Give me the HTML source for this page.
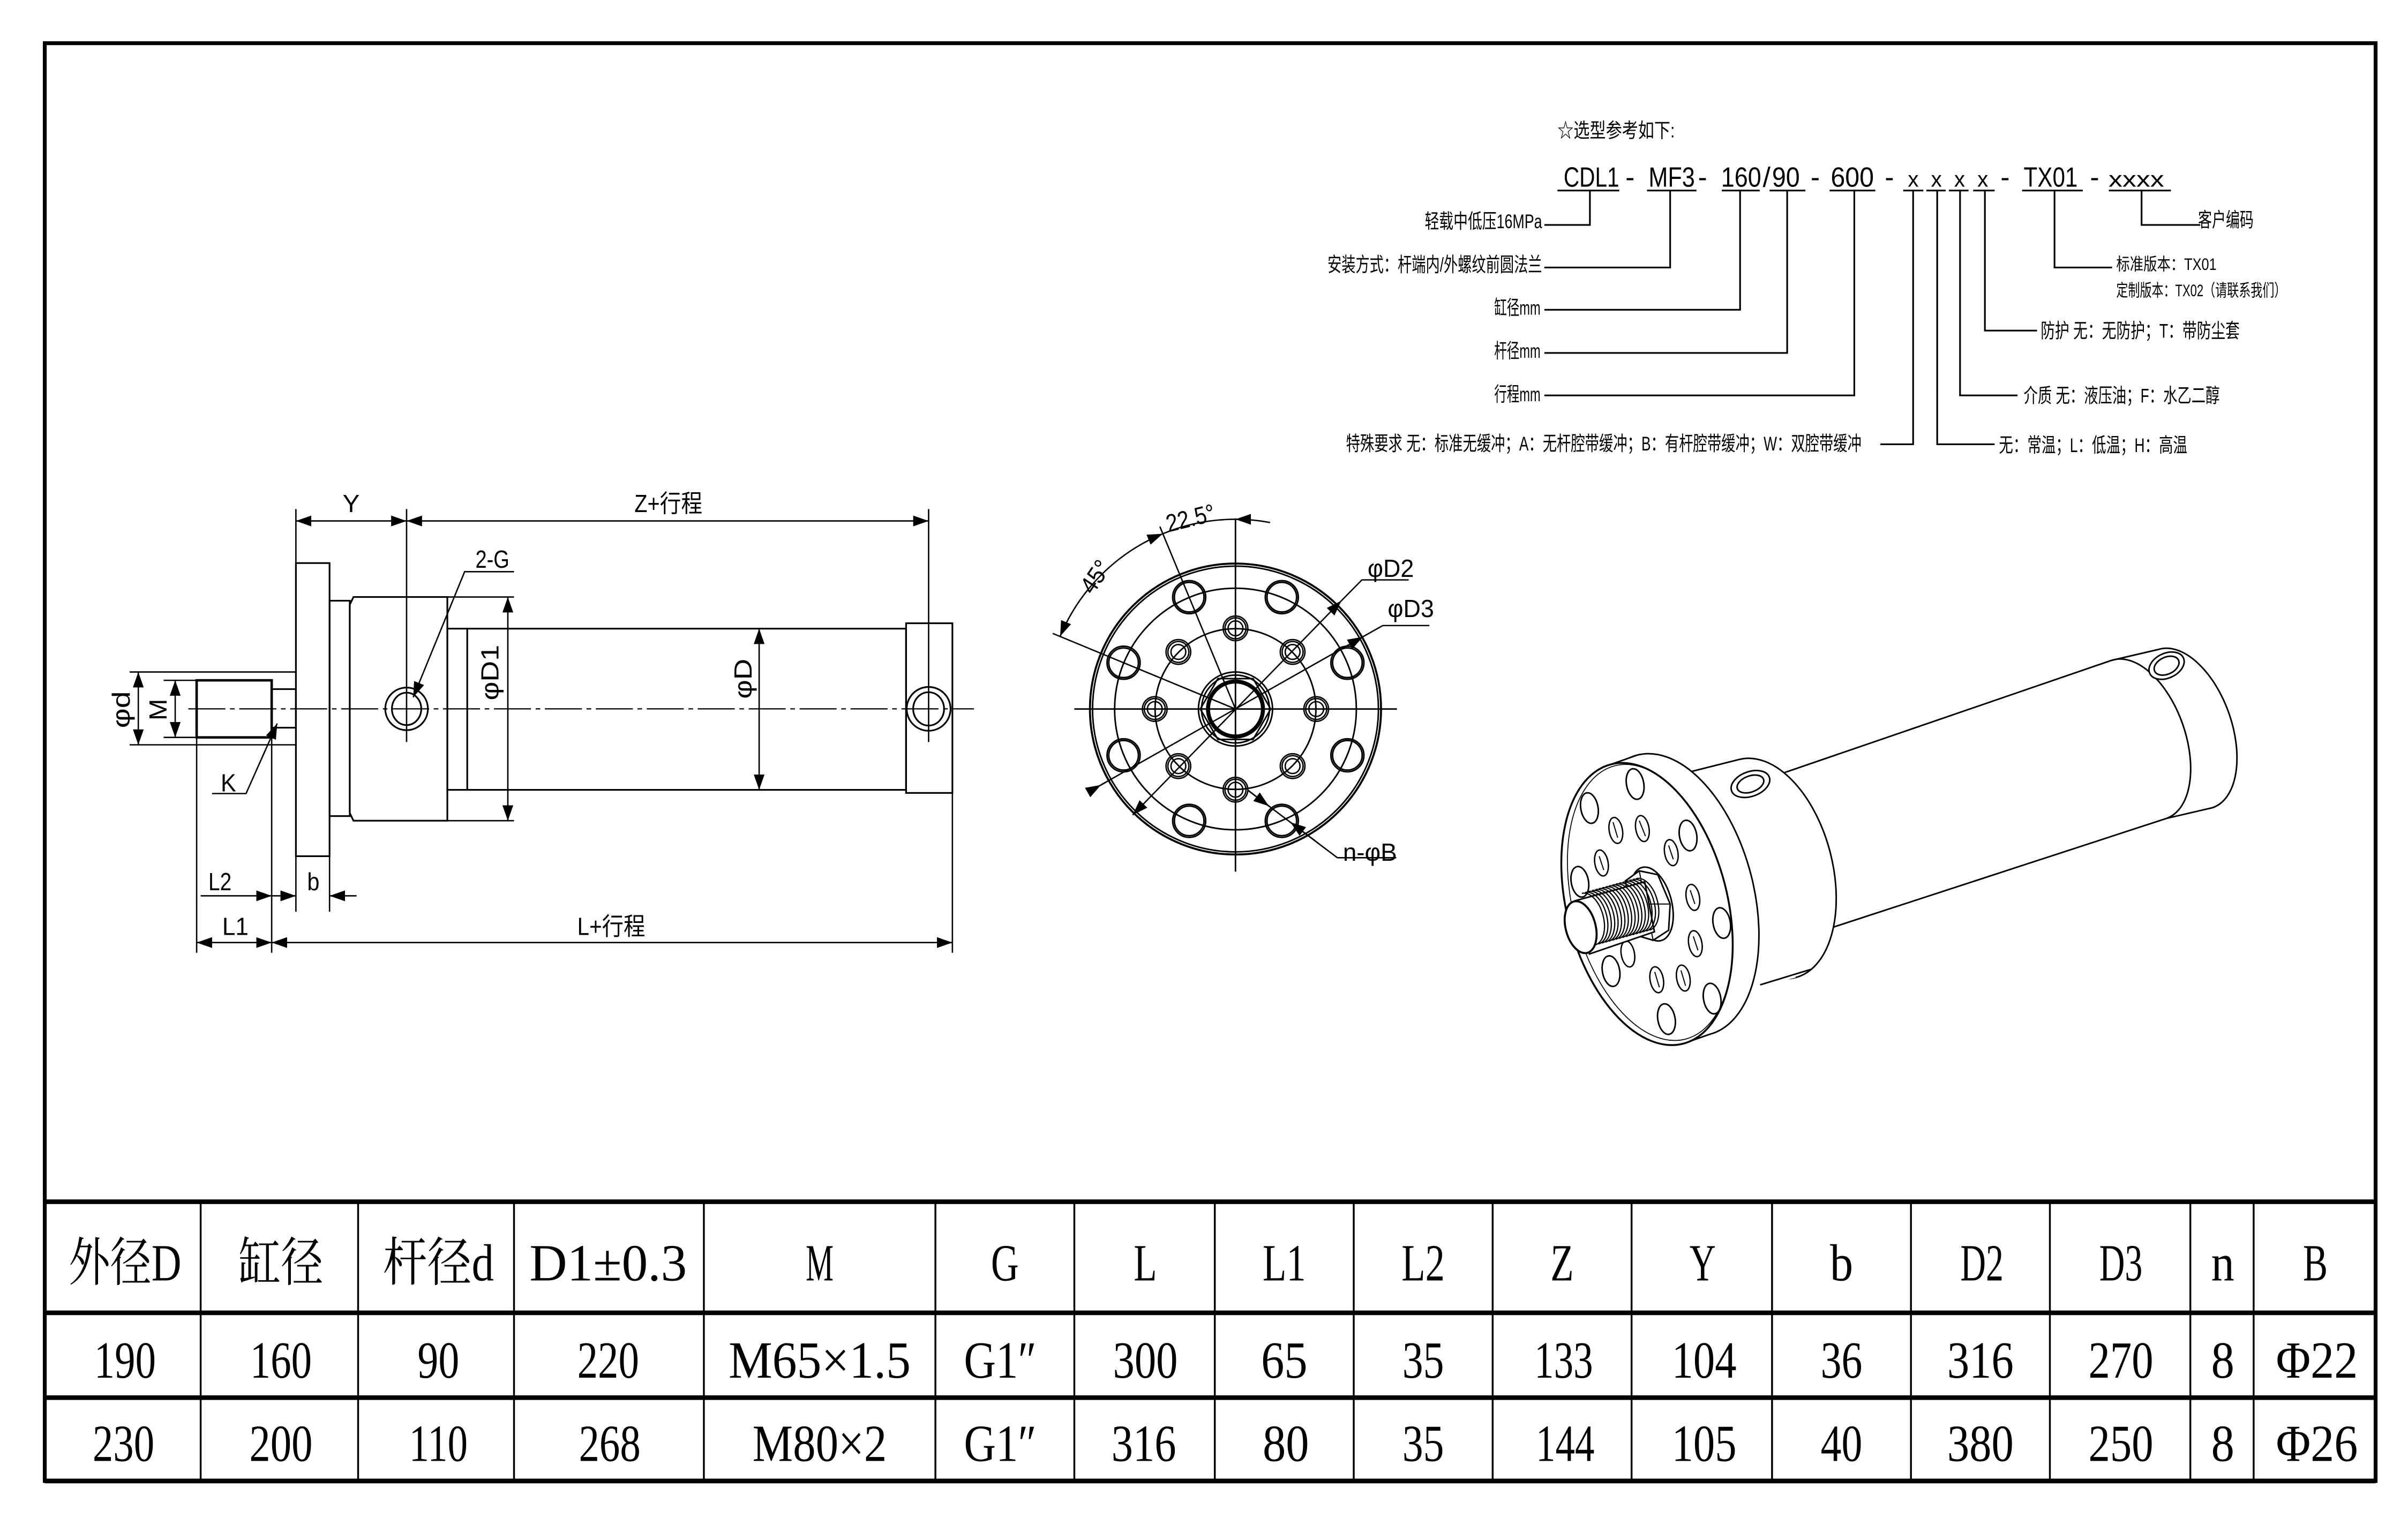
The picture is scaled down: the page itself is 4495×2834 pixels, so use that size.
<!DOCTYPE html>
<html><head><meta charset="utf-8">
<style>
html,body{margin:0;padding:0;background:#fff;}
svg{display:block;}
.s{font-family:"Liberation Sans","Noto Sans CJK SC",sans-serif;}
.t{font-family:"Liberation Serif","Noto Serif CJK SC",serif;font-size:34px;}
</style></head>
<body>
<svg xmlns="http://www.w3.org/2000/svg" width="4495" height="2834" viewBox="0 0 1560 984" preserveAspectRatio="none">
<defs>
<marker id="a" markerUnits="userSpaceOnUse" markerWidth="10" markerHeight="7" refX="10" refY="3.5" orient="auto-start-reverse"><path d="M0,0 L10,3.5 L0,7 z" fill="#000"/></marker>
</defs>
<rect width="1560" height="984" fill="#fff"/>
<!-- frame -->
<rect x="29" y="28" width="1510" height="932" fill="none" stroke="#000" stroke-width="2.5"/>
<!-- table -->
<g stroke="#000">
<line x1="29" y1="779" x2="1539" y2="779" stroke-width="3"/>
<line x1="29" y1="851" x2="1539" y2="851" stroke-width="3"/>
<line x1="29" y1="906" x2="1539" y2="906" stroke-width="3"/>
<line x1="29" y1="960" x2="1539" y2="960" stroke-width="3"/>
<g stroke-width="1.2">
<line x1="130" y1="779" x2="130" y2="960"/><line x1="232" y1="779" x2="232" y2="960"/>
<line x1="333" y1="779" x2="333" y2="960"/><line x1="456" y1="779" x2="456" y2="960"/>
<line x1="606" y1="779" x2="606" y2="960"/><line x1="696" y1="779" x2="696" y2="960"/>
<line x1="787" y1="779" x2="787" y2="960"/><line x1="877" y1="779" x2="877" y2="960"/>
<line x1="967" y1="779" x2="967" y2="960"/><line x1="1057" y1="779" x2="1057" y2="960"/>
<line x1="1148" y1="779" x2="1148" y2="960"/><line x1="1238" y1="779" x2="1238" y2="960"/>
<line x1="1328" y1="779" x2="1328" y2="960"/><line x1="1419" y1="779" x2="1419" y2="960"/>
<line x1="1460" y1="779" x2="1460" y2="960"/>
</g></g>
<g class="t" text-anchor="middle" fill="#000">
<text x="81" y="830" textLength="73" lengthAdjust="spacingAndGlyphs">外径D</text>
<text x="182" y="830" textLength="55" lengthAdjust="spacingAndGlyphs">缸径</text>
<text x="284" y="830" textLength="72" lengthAdjust="spacingAndGlyphs">杆径d</text>
<text x="394" y="830" textLength="102" lengthAdjust="spacingAndGlyphs">D1±0.3</text>
<text x="531" y="830" textLength="18" lengthAdjust="spacingAndGlyphs">M</text>
<text x="651" y="830" textLength="18" lengthAdjust="spacingAndGlyphs">G</text>
<text x="742" y="830" textLength="15" lengthAdjust="spacingAndGlyphs">L</text>
<text x="832" y="830" textLength="28" lengthAdjust="spacingAndGlyphs">L1</text>
<text x="922" y="830" textLength="28" lengthAdjust="spacingAndGlyphs">L2</text>
<text x="1012" y="830" textLength="15" lengthAdjust="spacingAndGlyphs">Z</text>
<text x="1103" y="830" textLength="17" lengthAdjust="spacingAndGlyphs">Y</text>
<text x="1193" y="830" textLength="15" lengthAdjust="spacingAndGlyphs">b</text>
<text x="1284" y="830" textLength="28" lengthAdjust="spacingAndGlyphs">D2</text>
<text x="1374" y="830" textLength="28" lengthAdjust="spacingAndGlyphs">D3</text>
<text x="1440" y="830" textLength="15" lengthAdjust="spacingAndGlyphs">n</text>
<text x="1500" y="830" textLength="16" lengthAdjust="spacingAndGlyphs">B</text>

<text x="81" y="893" textLength="40" lengthAdjust="spacingAndGlyphs">190</text>
<text x="182" y="893" textLength="40" lengthAdjust="spacingAndGlyphs">160</text>
<text x="284" y="893" textLength="27" lengthAdjust="spacingAndGlyphs">90</text>
<text x="394" y="893" textLength="40" lengthAdjust="spacingAndGlyphs">220</text>
<text x="531" y="893" textLength="118" lengthAdjust="spacingAndGlyphs">M65×1.5</text>
<text x="648" y="893" textLength="47" lengthAdjust="spacingAndGlyphs">G1″</text>
<text x="742" y="893" textLength="42" lengthAdjust="spacingAndGlyphs">300</text>
<text x="832" y="893" textLength="30" lengthAdjust="spacingAndGlyphs">65</text>
<text x="922" y="893" textLength="27" lengthAdjust="spacingAndGlyphs">35</text>
<text x="1013" y="893" textLength="38" lengthAdjust="spacingAndGlyphs">133</text>
<text x="1104" y="893" textLength="42" lengthAdjust="spacingAndGlyphs">104</text>
<text x="1193" y="893" textLength="27" lengthAdjust="spacingAndGlyphs">36</text>
<text x="1283" y="893" textLength="43" lengthAdjust="spacingAndGlyphs">316</text>
<text x="1374" y="893" textLength="42" lengthAdjust="spacingAndGlyphs">270</text>
<text x="1440" y="893" textLength="15" lengthAdjust="spacingAndGlyphs">8</text>
<text x="1501" y="893" textLength="53" lengthAdjust="spacingAndGlyphs">Φ22</text>

<text x="80" y="947" textLength="40" lengthAdjust="spacingAndGlyphs">230</text>
<text x="182" y="947" textLength="41" lengthAdjust="spacingAndGlyphs">200</text>
<text x="284" y="947" textLength="38" lengthAdjust="spacingAndGlyphs">110</text>
<text x="395" y="947" textLength="40" lengthAdjust="spacingAndGlyphs">268</text>
<text x="531" y="947" textLength="87" lengthAdjust="spacingAndGlyphs">M80×2</text>
<text x="648" y="947" textLength="47" lengthAdjust="spacingAndGlyphs">G1″</text>
<text x="741" y="947" textLength="42" lengthAdjust="spacingAndGlyphs">316</text>
<text x="833" y="947" textLength="30" lengthAdjust="spacingAndGlyphs">80</text>
<text x="922" y="947" textLength="27" lengthAdjust="spacingAndGlyphs">35</text>
<text x="1014" y="947" textLength="38" lengthAdjust="spacingAndGlyphs">144</text>
<text x="1104" y="947" textLength="42" lengthAdjust="spacingAndGlyphs">105</text>
<text x="1193" y="947" textLength="27" lengthAdjust="spacingAndGlyphs">40</text>
<text x="1283" y="947" textLength="43" lengthAdjust="spacingAndGlyphs">380</text>
<text x="1374" y="947" textLength="42" lengthAdjust="spacingAndGlyphs">250</text>
<text x="1440" y="947" textLength="15" lengthAdjust="spacingAndGlyphs">8</text>
<text x="1501" y="947" textLength="53" lengthAdjust="spacingAndGlyphs">Φ26</text>
</g>

<!-- selection code -->
<g class="s" fill="#000">
<text x="1009" y="89" font-size="13" textLength="76" lengthAdjust="spacingAndGlyphs">☆选型参考如下:</text>
<g font-size="18">
<text x="1013" y="121" textLength="36" lengthAdjust="spacingAndGlyphs">CDL1</text>
<text x="1053" y="121">-</text>
<text x="1068" y="121" textLength="30" lengthAdjust="spacingAndGlyphs">MF3</text>
<text x="1100" y="121">-</text>
<text x="1115" y="121" textLength="26" lengthAdjust="spacingAndGlyphs">160</text>
<text x="1142" y="121">/</text>
<text x="1148" y="121" textLength="18" lengthAdjust="spacingAndGlyphs">90</text>
<text x="1173" y="121">-</text>
<text x="1186" y="121" textLength="28" lengthAdjust="spacingAndGlyphs">600</text>
<text x="1221" y="121">-</text>
<text x="1236" y="121" font-size="14">x</text>
<text x="1251" y="121" font-size="14">x</text>
<text x="1266" y="121" font-size="14">x</text>
<text x="1281" y="121" font-size="14">x</text>
<text x="1296" y="121">-</text>
<text x="1311" y="121" textLength="35" lengthAdjust="spacingAndGlyphs">TX01</text>
<text x="1354" y="121">-</text>
<text x="1366" y="121" font-size="14" textLength="36" lengthAdjust="spacingAndGlyphs">xxxx</text>
</g>
<g font-size="13">
<text x="923" y="148" textLength="76" lengthAdjust="spacingAndGlyphs">轻载中低压16MPa</text>
<text x="860" y="176" textLength="139" lengthAdjust="spacingAndGlyphs">安装方式：杆端内/外螺纹前圆法兰</text>
<text x="968" y="204" textLength="30" lengthAdjust="spacingAndGlyphs">缸径mm</text>
<text x="968" y="232" textLength="30" lengthAdjust="spacingAndGlyphs">杆径mm</text>
<text x="968" y="260" textLength="30" lengthAdjust="spacingAndGlyphs">行程mm</text>
<text x="872" y="292" textLength="334" lengthAdjust="spacingAndGlyphs">特殊要求 无：标准无缓冲；A：无杆腔带缓冲；B：有杆腔带缓冲；W：双腔带缓冲</text>
<text x="1295" y="293" textLength="122" lengthAdjust="spacingAndGlyphs">无：常温；L：低温；H：高温</text>
<text x="1311" y="261" textLength="127" lengthAdjust="spacingAndGlyphs">介质 无：液压油；F：水乙二醇</text>
<text x="1322" y="219" textLength="129" lengthAdjust="spacingAndGlyphs">防护 无：无防护；T：带防尘套</text>
<text x="1371" y="175" font-size="11" textLength="65" lengthAdjust="spacingAndGlyphs">标准版本：TX01</text>
<text x="1371" y="192" font-size="11" textLength="110" lengthAdjust="spacingAndGlyphs">定制版本：TX02（请联系我们）</text>
<text x="1424" y="147" textLength="36" lengthAdjust="spacingAndGlyphs">客户编码</text>
</g>
</g>
<g stroke="#000" stroke-width="1.1" fill="none">
<path d="M1009,123.5H1049 M1067,123.5H1099 M1115.5,123.5H1140 M1146.4,123.5H1169.6 M1185.3,123.5H1214.9 M1233,123.5H1246 M1248,123.5H1260.5 M1262.6,123.5H1275.3 M1278.3,123.5H1292.2 M1310,123.5H1349.3 M1366.2,123.5H1406.4"/>
<path d="M1030,123.5V145.8H1000.5 M1082,123.5V173.4H1000.5 M1127.3,123.5V200.8H1000.5 M1157.8,123.5V228.8H1000.5 M1201.3,123.5V256.3H1000.5 M1239.4,123.5V288H1218.2 M1255,123.5V288H1292.2 M1269.8,123.5V256.3H1307 M1285.9,123.5V214.3H1319.7 M1331,123.5V173.4H1368.3 M1387.4,123.5V145.8H1425.4"/>
</g>

<!-- ===== Left side view ===== -->
<g stroke="#000" stroke-width="1.1" fill="none">
<rect x="191.7" y="365" width="21.8" height="190"/>
<rect x="213.5" y="389.4" width="13.1" height="139.6"/>
<path d="M226.6,392 L229,387 H289.8 V532 H229 L226.6,527 Z"/>
<rect x="289.8" y="407.5" width="297.2" height="104.5"/>
<line x1="302.7" y1="407.5" x2="302.7" y2="512"/>
<rect x="587" y="404" width="30" height="110"/>
<rect x="127.4" y="441" width="48.6" height="37" stroke-width="1.6"/>
<rect x="176" y="446.7" width="15.7" height="25"/>
<circle cx="263.4" cy="459.5" r="13.8"/><ellipse cx="263.4" cy="459.5" rx="9.5" ry="10.5"/>
<circle cx="601.6" cy="459.5" r="14.2"/><ellipse cx="601.6" cy="459.5" rx="10" ry="10.8"/>
<!-- centerline -->
<line x1="122" y1="459.5" x2="631" y2="459.5" stroke-width="0.8" stroke-dasharray="24,3,3,3"/>
<!-- ext lines -->
<path d="M191.7,330V365 M263.4,330V481 M601.6,330V481" stroke-width="0.9"/>
<path d="M84,435.6H191.7 M84,482.8H191.7 M106,441H127.4 M106,478H127.4" stroke-width="0.9"/>
<path d="M290,387H333 M290,532H333" stroke-width="0.9"/>
<path d="M127.4,478V617.6 M176,478V617.6 M191.7,555V591 M213.5,555V591 M617,514V617.6" stroke-width="0.9"/>
<!-- dims -->
<g stroke-width="0.9">
<line x1="191.7" y1="337.7" x2="263.4" y2="337.7" marker-start="url(#a)" marker-end="url(#a)"/>
<line x1="263.4" y1="337.7" x2="601.6" y2="337.7" marker-start="url(#a)" marker-end="url(#a)"/>
<line x1="329" y1="387" x2="329" y2="532" marker-start="url(#a)" marker-end="url(#a)"/>
<line x1="491.8" y1="407.5" x2="491.8" y2="512" marker-start="url(#a)" marker-end="url(#a)"/>
<line x1="89.6" y1="435.6" x2="89.6" y2="482.8" marker-start="url(#a)" marker-end="url(#a)"/>
<line x1="113.5" y1="441" x2="113.5" y2="478" marker-start="url(#a)" marker-end="url(#a)"/>
<line x1="130" y1="580.7" x2="176" y2="580.7" marker-end="url(#a)"/>
<line x1="176" y1="580.7" x2="191.7" y2="580.7" marker-end="url(#a)"/>
<line x1="231" y1="580.7" x2="213.5" y2="580.7" marker-end="url(#a)"/>
<line x1="127.4" y1="611" x2="176" y2="611" marker-start="url(#a)" marker-end="url(#a)"/>
<line x1="176" y1="611" x2="617" y2="611" marker-start="url(#a)" marker-end="url(#a)"/>
<polyline points="267.7,452 301,370.6 333,370.6" marker-start="url(#a)"/>
<polyline points="179.6,469 159.4,514.4 137.4,514.4" marker-start="url(#a)"/>
</g>
</g>
<g class="s" fill="#000" font-size="16">
<text x="222" y="332" textLength="11" lengthAdjust="spacingAndGlyphs">Y</text>
<text x="411" y="332" textLength="44" lengthAdjust="spacingAndGlyphs">Z+行程</text>
<text x="308" y="368" textLength="22" lengthAdjust="spacingAndGlyphs">2-G</text>
<text x="143" y="513" textLength="10" lengthAdjust="spacingAndGlyphs">K</text>
<text x="135" y="577" textLength="15" lengthAdjust="spacingAndGlyphs">L2</text>
<text x="199" y="577" textLength="8" lengthAdjust="spacingAndGlyphs">b</text>
<text x="144" y="606" textLength="17" lengthAdjust="spacingAndGlyphs">L1</text>
<text x="374" y="606" textLength="44" lengthAdjust="spacingAndGlyphs">L+行程</text>
<text transform="translate(323,436) rotate(-90)" text-anchor="middle" textLength="36" lengthAdjust="spacingAndGlyphs">φD1</text>
<text transform="translate(487,440) rotate(-90)" text-anchor="middle" textLength="26" lengthAdjust="spacingAndGlyphs">φD</text>
<text transform="translate(84,460) rotate(-90)" text-anchor="middle" textLength="24" lengthAdjust="spacingAndGlyphs">φd</text>
<text transform="translate(108,460) rotate(-90)" text-anchor="middle" textLength="14" lengthAdjust="spacingAndGlyphs">M</text>
</g>

<!-- ===== Front view ===== -->
<g stroke="#000" stroke-width="1" fill="none">
<circle cx="800.4" cy="459.6" r="94.3" stroke-width="1.3"/>
<circle cx="800.4" cy="459.6" r="92.6"/>
<circle cx="800.4" cy="459.6" r="78.3"/>
<circle cx="800.4" cy="459.6" r="52.1"/>
<line x1="696" y1="459.6" x2="905" y2="459.6"/>
<line x1="800.4" y1="336" x2="800.4" y2="565"/>
<g id="bh">
</g>
<circle cx="830.4" cy="387.1" r="10.7"/><circle cx="830.4" cy="387.1" r="9.6"/>
<circle cx="872.9" cy="429.6" r="10.7"/><circle cx="872.9" cy="429.6" r="9.6"/>
<circle cx="872.9" cy="489.6" r="10.7"/><circle cx="872.9" cy="489.6" r="9.6"/>
<circle cx="830.4" cy="532.1" r="10.7"/><circle cx="830.4" cy="532.1" r="9.6"/>
<circle cx="770.4" cy="532.1" r="10.7"/><circle cx="770.4" cy="532.1" r="9.6"/>
<circle cx="727.9" cy="489.6" r="10.7"/><circle cx="727.9" cy="489.6" r="9.6"/>
<circle cx="727.9" cy="429.6" r="10.7"/><circle cx="727.9" cy="429.6" r="9.6"/>
<circle cx="770.4" cy="387.1" r="10.7"/><circle cx="770.4" cy="387.1" r="9.6"/>
<g stroke-width="0.9">
<circle cx="800.4" cy="407.3" r="8"/><circle cx="800.4" cy="407.3" r="6.8"/><circle cx="800.4" cy="407.3" r="4.8"/>
<circle cx="837.4" cy="422.6" r="8"/><circle cx="837.4" cy="422.6" r="6.8"/><circle cx="837.4" cy="422.6" r="4.8"/>
<circle cx="852.7" cy="459.6" r="8"/><circle cx="852.7" cy="459.6" r="6.8"/><circle cx="852.7" cy="459.6" r="4.8"/>
<circle cx="837.4" cy="496.6" r="8"/><circle cx="837.4" cy="496.6" r="6.8"/><circle cx="837.4" cy="496.6" r="4.8"/>
<circle cx="800.4" cy="511.9" r="8"/><circle cx="800.4" cy="511.9" r="6.8"/><circle cx="800.4" cy="511.9" r="4.8"/>
<circle cx="763.4" cy="496.6" r="8"/><circle cx="763.4" cy="496.6" r="6.8"/><circle cx="763.4" cy="496.6" r="4.8"/>
<circle cx="748.1" cy="459.6" r="8"/><circle cx="748.1" cy="459.6" r="6.8"/><circle cx="748.1" cy="459.6" r="4.8"/>
<circle cx="763.4" cy="422.6" r="8"/><circle cx="763.4" cy="422.6" r="6.8"/><circle cx="763.4" cy="422.6" r="4.8"/>
</g>
<circle cx="800.4" cy="459.6" r="24"/>
<circle cx="800.4" cy="459.6" r="22"/>
<polygon points="777.6,459.6 789,439.9 811.8,439.9 823.2,459.6 811.8,479.3 789,479.3"/>
<circle cx="800.4" cy="459.6" r="17.8" stroke-width="2.6"/>
<!-- angle lines -->
<line x1="800.4" y1="459.6" x2="751.4" y2="341.3" stroke-width="0.9"/>
<line x1="800.4" y1="459.6" x2="682" y2="410.6" stroke-width="0.9"/>
<path d="M686.8,412.5 A123,123 0 0 1 753.3,346" stroke-width="0.9" marker-start="url(#a)" marker-end="url(#a)"/>
<path d="M753.3,346 A123,123 0 0 1 800.4,336.6" stroke-width="0.9"/>
<path d="M822.8,338.7 A123,123 0 0 0 800.4,336.6" stroke-width="0.9" marker-end="url(#a)"/>
<!-- leaders -->
<line x1="733.8" y1="528.3" x2="869" y2="389.4" stroke-width="0.9" marker-start="url(#a)" marker-end="url(#a)"/>
<polyline points="869,389.4 882.3,375.9 912.6,375.9" stroke-width="0.9"/>
<line x1="713.3" y1="508.8" x2="895.8" y2="405.5" stroke-width="0.9"/>
<line x1="713.3" y1="508.8" x2="719" y2="505.6" stroke-width="0.9"/>
<line x1="880" y1="414.5" x2="883" y2="412.8" stroke-width="0.9"/>
<line x1="705" y1="513.5" x2="713.3" y2="508.8" stroke-width="0.9" marker-end="url(#a)"/>
<line x1="872" y1="419" x2="883" y2="412.8" stroke-width="0.9" marker-end="url(#a)"/>
<polyline points="895.8,405.5 926,405.5" stroke-width="0.9"/>
<line x1="808.5" y1="512.3" x2="866.4" y2="556" stroke-width="0.9"/>
<line x1="808.5" y1="512.3" x2="822" y2="522.5" stroke-width="0.9" marker-end="url(#a)"/>
<line x1="836" y1="533" x2="852" y2="545" stroke-width="0.9" marker-start="url(#a)"/>
<polyline points="866.4,556 904.6,556" stroke-width="0.9"/>
</g>
<g class="s" fill="#000" font-size="16">
<text x="886" y="374" textLength="30" lengthAdjust="spacingAndGlyphs">φD2</text>
<text x="899" y="400" textLength="30" lengthAdjust="spacingAndGlyphs">φD3</text>
<text x="870" y="558" textLength="35" lengthAdjust="spacingAndGlyphs">n-φB</text>
<text transform="translate(757,345) rotate(-14)" textLength="32" lengthAdjust="spacingAndGlyphs">22.5°</text>
<text transform="translate(708,386) rotate(-56)" textLength="22" lengthAdjust="spacingAndGlyphs">45°</text>
</g>

<!-- ===== 3D view ===== -->
<g stroke="#000" stroke-width="1" fill="#fff">
<!-- end cap -->
<ellipse cx="1415.7" cy="472.3" rx="30" ry="54.2" transform="rotate(-19.3 1415.7 472.3)"/>
<polygon points="1367.8,428.1 1397.8,421.1 1433.6,523.5 1403.6,530.5" stroke="none"/>
<ellipse cx="1385.7" cy="479.3" rx="30" ry="54.2" transform="rotate(-19.3 1385.7 479.3)"/>
<path d="M1367.8,428.1 L1397.8,421.1 M1403.6,530.5 L1433.6,523.5" fill="none"/>
<ellipse cx="1403.6" cy="431.5" rx="12" ry="8" transform="rotate(-25 1403.6 431.5)"/>
<ellipse cx="1403.6" cy="431.5" rx="8.5" ry="5.5" transform="rotate(-25 1403.6 431.5)"/>
<!-- tube -->
<polygon points="1150,502 1367.8,428.1 1392,479 1403.6,530.5 1180,603" stroke="none"/>
<path d="M1150,502.9 L1367.8,428.1 M1180,603.5 L1403.6,530.5" fill="none"/>
<!-- gland -->
<ellipse cx="1145" cy="563" rx="42" ry="73" transform="rotate(-14.5 1145 563)"/>
<polygon points="1095,500.3 1126.7,492.3 1163.3,633.7 1131.6,641.7" stroke="none"/>
<ellipse cx="1113.3" cy="571" rx="42" ry="73" transform="rotate(-14.5 1113.3 571)" stroke="none"/>
<path d="M1095,500.3 L1126.7,492.3 M1140.3,638.4 L1173,628.4" fill="none"/>
<ellipse cx="1134" cy="508.2" rx="13" ry="8" transform="rotate(-20 1134 508.2)"/>
<ellipse cx="1134" cy="508.2" rx="9" ry="5.2" transform="rotate(-20 1134 508.2)"/>
<!-- flange -->
<ellipse cx="1084" cy="580" rx="52" ry="93.5" transform="rotate(-14.5 1084 580)"/>
<polygon points="1043.6,495.5 1060.6,489.5 1107.4,670.5 1090.4,676.5" stroke="none"/>
<path d="M1043.6,495.5 L1060.6,489.5 M1090.4,676.5 L1107.4,670.5" fill="none"/>
<ellipse cx="1067" cy="586" rx="52" ry="93.5" transform="rotate(-14.5 1067 586)" stroke-width="1.2"/>
<ellipse cx="1069" cy="585" rx="50" ry="91.5" transform="rotate(-14.5 1069 585)" fill="none" stroke-width="0.6"/>
<!-- big holes -->
<g transform="rotate(0)">
<ellipse cx="1059.3" cy="508.2" rx="5.6" ry="10" transform="rotate(-10 1059.3 508.2)"/>
<ellipse cx="1029.7" cy="523.8" rx="5.6" ry="10" transform="rotate(-10 1029.7 523.8)"/>
<ellipse cx="1093.6" cy="541.6" rx="5.6" ry="10" transform="rotate(-10 1093.6 541.6)"/>
<ellipse cx="1023.5" cy="571.6" rx="5.6" ry="10" transform="rotate(-10 1023.5 571.6)"/>
<ellipse cx="1115.4" cy="598.3" rx="5.6" ry="10" transform="rotate(-10 1115.4 598.3)"/>
<ellipse cx="1043.7" cy="629.5" rx="5.6" ry="10" transform="rotate(-10 1043.7 629.5)"/>
<ellipse cx="1109.2" cy="647.3" rx="5.6" ry="10" transform="rotate(-10 1109.2 647.3)"/>
<ellipse cx="1079.6" cy="660.6" rx="5.6" ry="10" transform="rotate(-10 1079.6 660.6)"/>
</g>
<g stroke-width="0.9">
<ellipse cx="1046.8" cy="538.3" rx="4.3" ry="8.5" transform="rotate(-10 1046.8 538.3)"/>
<ellipse cx="1064" cy="537.1" rx="4.3" ry="8.5" transform="rotate(-10 1064 537.1)"/>
<ellipse cx="1082.7" cy="552.7" rx="4.3" ry="8.5" transform="rotate(-10 1082.7 552.7)"/>
<ellipse cx="1037.5" cy="559.4" rx="4.3" ry="8.5" transform="rotate(-10 1037.5 559.4)"/>
<ellipse cx="1096.7" cy="581.7" rx="4.3" ry="8.5" transform="rotate(-10 1096.7 581.7)"/>
<ellipse cx="1098.3" cy="611.7" rx="4.3" ry="8.5" transform="rotate(-10 1098.3 611.7)"/>
<ellipse cx="1054.6" cy="618.4" rx="4.3" ry="8.5" transform="rotate(-10 1054.6 618.4)"/>
<ellipse cx="1073.3" cy="635.1" rx="4.3" ry="8.5" transform="rotate(-10 1073.3 635.1)"/>
<ellipse cx="1090.5" cy="634" rx="4.3" ry="8.5" transform="rotate(-10 1090.5 634)"/>
</g>
<g fill="none" stroke-width="0.7">
<path d="M1045,533 L1048,543 M1062,532 L1066,542 M1081,548 L1084,557 M1036,555 L1039,564 M1095,577 L1098,586 M1097,607 L1100,616 M1072,630 L1075,640 M1089,629 L1092,639"/>
</g>
<!-- nut -->
<ellipse cx="1070" cy="586" rx="13" ry="24.5" transform="rotate(-14.5 1070 586)"/>
<polygon points="1053,571 1062,564.5 1074,567 1082,586 1081,603 1071,609.5 1059,606 1056,590"/>
<path d="M1062,564.5 L1066,586 L1071,609.5 M1066,586 L1082,586" fill="none" stroke-width="0.7"/>
<!-- rod thread -->
<polygon points="1020.4,583.9 1065.5,571.6 1071.8,604 1029.7,618.4"/>
<g fill="none" stroke-width="0.8">
<path d="M1024.8,579.1 A9.7,17.2 -14.5 0 1 1033.4,612.5"/>
<path d="M1027,578.5 A9.7,17.2 -14.5 0 1 1035.6,611.9"/>
<path d="M1029.2,577.9 A9.7,17.2 -14.5 0 1 1037.8,611.3"/>
<path d="M1031.4,577.3 A9.7,17.2 -14.5 0 1 1040,610.7"/>
<path d="M1033.6,576.7 A9.7,17.2 -14.5 0 1 1042.2,610.1"/>
<path d="M1035.8,576.1 A9.7,17.2 -14.5 0 1 1044.4,609.5"/>
<path d="M1038,575.5 A9.7,17.2 -14.5 0 1 1046.6,608.9"/>
<path d="M1040.2,574.9 A9.7,17.2 -14.5 0 1 1048.8,608.3"/>
<path d="M1042.4,574.3 A9.7,17.2 -14.5 0 1 1051,607.7"/>
<path d="M1044.6,573.7 A9.7,17.2 -14.5 0 1 1053.2,607.1"/>
<path d="M1046.8,573.1 A9.7,17.2 -14.5 0 1 1055.4,606.5"/>
<path d="M1049,572.5 A9.7,17.2 -14.5 0 1 1057.6,605.9"/>
<path d="M1051.2,571.9 A9.7,17.2 -14.5 0 1 1059.8,605.3"/>
<path d="M1053.4,571.3 A9.7,17.2 -14.5 0 1 1062,604.7"/>
<path d="M1055.6,570.7 A9.7,17.2 -14.5 0 1 1064.2,604.1"/>
<path d="M1057.8,570.1 A9.7,17.2 -14.5 0 1 1066.4,603.5"/>
<path d="M1060,569.5 A9.7,17.2 -14.5 0 1 1068.6,602.9"/>
</g>
<ellipse cx="1024" cy="601" rx="9.7" ry="17.2" transform="rotate(-14.5 1024 601)" stroke-width="1.3"/>
</g>
</svg>
</body></html>
